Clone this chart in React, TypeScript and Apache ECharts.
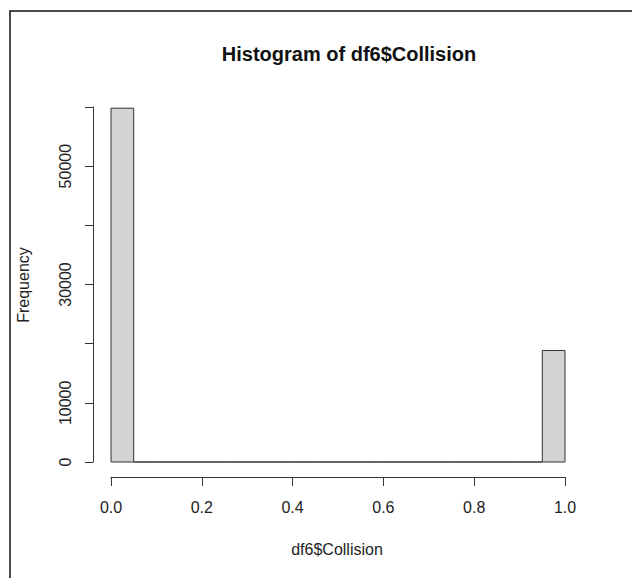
import React, { useEffect, useRef } from "react";
import * as echarts from "echarts";

const binBreaks = [0, 0.05, 0.1, 0.15, 0.2, 0.25, 0.3, 0.35, 0.4, 0.45, 0.5, 0.55, 0.6, 0.65, 0.7, 0.75, 0.8, 0.85, 0.9, 0.95, 1.0];
const binCounts = [59800, 0, 0, 0, 0, 0, 0, 0, 0, 0, 0, 0, 0, 0, 0, 0, 0, 0, 0, 18850];
const yLabelsShown = [0, 10000, 30000, 50000];
const titleText = "Histogram of df6$Collision";
const xTitle = "df6$Collision";
const yTitle = "Frequency";

export default function App() {
  const ref = useRef<HTMLDivElement>(null);
  useEffect(() => {
    if (!ref.current) return;
    const chart = echarts.init(ref.current, null, { renderer: "svg" });
    const data = binCounts.map((c, i) => [binBreaks[i], binBreaks[i + 1], c]);
    const font = "'Liberation Sans', Arial, sans-serif";
    const textColor = "#222";
    chart.setOption({
      animation: false,
      backgroundColor: "#fff",
      grid: { left: 111, right: 67, top: 107, bottom: 116, containLabel: false },
      xAxis: {
        type: "value",
        min: 0,
        max: 1,
        interval: 0.2,
        offset: 15,
        splitLine: { show: false },
        axisLine: { show: true, onZero: false, lineStyle: { color: "#333", width: 1 } },
        axisTick: { show: true, length: 9, lineStyle: { color: "#333" } },
        axisLabel: {
          margin: 22,
          fontSize: 16,
          fontFamily: font,
          color: textColor,
          formatter: (v: number) => v.toFixed(1),
        },
      },
      yAxis: {
        type: "value",
        min: 0,
        max: 60000,
        interval: 10000,
        offset: 18,
        splitLine: { show: false },
        axisLine: { show: true, onZero: false, lineStyle: { color: "#333", width: 1 } },
        axisTick: { show: true, length: 8, lineStyle: { color: "#333" } },
        axisLabel: {
          rotate: 90,
          margin: 20,
          fontSize: 16,
          fontFamily: font,
          color: textColor,
          formatter: (v: number) => (yLabelsShown.includes(v) ? String(v) : ""),
        },
      },
      series: [
        {
          type: "custom",
          data,
          encode: { x: [0, 1], y: 2 },
          clip: false,
          renderItem: (params: any, api: any) => {
            const x0 = api.value(0);
            const x1 = api.value(1);
            const c = api.value(2);
            const p0 = api.coord([x0, 0]);
            const p1 = api.coord([x1, c]);
            return {
              type: "polygon",
              shape: {
                points: [
                  [p0[0], p0[1]],
                  [p1[0], p0[1]],
                  [p1[0], p1[1]],
                  [p0[0], p1[1]],
                ],
              },
              style: { fill: "#d3d3d3", stroke: "#333", lineWidth: 1 },
            };
          },
        },
      ],
      graphic: [
        {
          type: "polyline",
          shape: { points: [[10, 578], [10, 11], [632, 11]] },
          style: { stroke: "#111", lineWidth: 1.5, fill: "none" },
        },
        {
          type: "text",
          x: 349,
          y: 54,
          style: {
            text: titleText,
            fontSize: 20,
            fontWeight: "bold",
            fontFamily: font,
            fill: "#111",
            textAlign: "center",
            textVerticalAlign: "middle",
          },
        },
        {
          type: "text",
          x: 337,
          y: 549,
          style: {
            text: xTitle,
            fontSize: 16,
            fontFamily: font,
            fill: textColor,
            textAlign: "center",
            textVerticalAlign: "middle",
          },
        },
        {
          type: "text",
          x: 23,
          y: 285,
          rotation: Math.PI / 2,
          style: {
            text: yTitle,
            fontSize: 16,
            fontFamily: font,
            fill: textColor,
            textAlign: "center",
            textVerticalAlign: "middle",
          },
        },
      ],
    });
    return () => chart.dispose();
  }, []);
  return (
    <div
      ref={ref}
      style={{ position: "absolute", left: 0, top: 0, width: 632, height: 578 }}
    />
  );
}
